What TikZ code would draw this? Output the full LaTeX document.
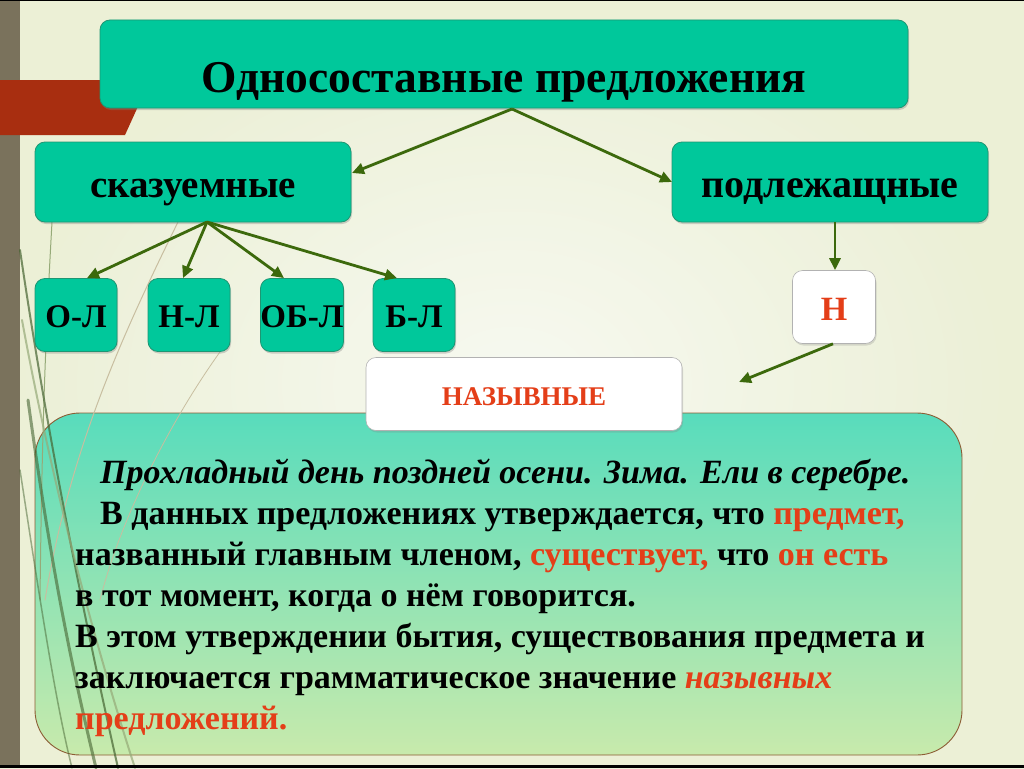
\documentclass[tikz,border=0pt]{standalone}
\usepackage{fontspec}
\setmainfont{Liberation Serif}
\usetikzlibrary{arrows.meta,shadows}
\definecolor{teal1}{RGB}{0,200,155}
\definecolor{tealedge}{RGB}{30,150,115}
\definecolor{arr}{RGB}{60,105,12}
\definecolor{redtxt}{RGB}{228,62,24}
\definecolor{graybar}{RGB}{122,114,92}
\definecolor{redband}{RGB}{168,46,16}
\definecolor{bgA}{RGB}{236,240,214}
\definecolor{bgB}{RGB}{248,250,244}
\definecolor{boxtop}{RGB}{88,220,188}
\definecolor{boxbot}{RGB}{200,234,172}
\definecolor{boxedge}{RGB}{140,92,52}
\definecolor{grassA}{RGB}{70,100,50}
\definecolor{grassB}{RGB}{150,170,120}
\definecolor{grassC}{RGB}{200,190,160}
\tikzset{
  tealbox/.style={draw=tealedge, line width=0.8pt, fill=teal1, rounded corners=10pt, inner sep=0pt,
    drop shadow={shadow xshift=1pt, shadow yshift=-2pt, opacity=0.35}},
  whitebox/.style={draw=gray!60, line width=0.6pt, fill=white, rounded corners=10pt, inner sep=0pt, text=redtxt,
    drop shadow={shadow xshift=1pt, shadow yshift=-2pt, opacity=0.25}},
  conn/.style={draw=arr, line width=2.8pt, -{Triangle[length=12pt,width=11pt]}},
  grass/.style={line cap=round}
}
\begin{document}
\begin{tikzpicture}[x=1pt,y=-1pt]
\useasboundingbox (0,0) rectangle (1024,768);
% background
\fill[bgA] (0,0) rectangle (1024,768);
\shade[inner color=bgB, outer color=bgA, opacity=0.9] (0,0) rectangle (1024,768);
% left bar and red band
\fill[graybar] (0,0) rectangle (20,768);
\fill[redband] (0,80) -- (150,80) -- (125,135) -- (0,135) -- cycle;
% big text box
\shade[top color=boxtop, bottom color=boxbot, rounded corners=45pt] (35,413) rectangle (962,755);
\draw[boxedge, line width=0.9pt, rounded corners=45pt] (35,413) rectangle (962,755);
% decorative grass lines
\draw[grass, grassB, line width=1pt] (52,222) .. controls (46,330) and (42,420) .. (40,600);
\draw[grass, grassC, line width=1pt] (178,222) .. controls (120,340) and (70,450) .. (45,600);
\draw[grass, grassC, line width=0.8pt] (225,345) .. controls (170,420) and (120,520) .. (100,600);
\draw[grass, grassA, line width=2pt, opacity=0.7] (20,250) .. controls (45,420) and (80,600) .. (118,768);
\draw[grass, grassA, line width=3pt, opacity=0.6] (28,400) .. controls (50,560) and (70,660) .. (96,768);
\draw[grass, grassB, line width=2pt, opacity=0.7] (22,320) .. controls (55,500) and (100,660) .. (135,768);
\draw[grass, grassA, line width=1.5pt, opacity=0.5] (20,470) .. controls (40,600) and (55,700) .. (72,768);
% boxes
\node[tealbox, minimum width=808pt, minimum height=88pt, text height=56pt, text depth=0pt,
  font=\bfseries\fontsize{45.5}{48}\selectfont] (top) at (504,64) {Односоставные предложения};
\node[tealbox, minimum width=316pt, minimum height=80pt, text height=30pt, text depth=0pt,
  font=\bfseries\fontsize{39}{42}\selectfont] (skaz) at (193,182) {сказуемные};
\node[tealbox, minimum width=316pt, minimum height=80pt, text height=30pt, text depth=0pt,
  font=\bfseries\fontsize{40}{42}\selectfont] (podl) at (830,182) {подлежащные};
\node[tealbox, minimum width=82pt, minimum height=73pt, text height=24pt, text depth=0pt,
  font=\bfseries\fontsize{33}{36}\selectfont] (ol) at (76,315) {О-Л};
\node[tealbox, minimum width=82pt, minimum height=73pt, text height=24pt, text depth=0pt,
  font=\bfseries\fontsize{33}{36}\selectfont] (nl) at (189,315) {Н-Л};
\node[tealbox, minimum width=82pt, minimum height=73pt, text height=24pt, text depth=0pt,
  font=\bfseries\fontsize{33}{36}\selectfont] (obl) at (302,315) {ОБ-Л};
\node[tealbox, minimum width=82pt, minimum height=73pt, text height=24pt, text depth=0pt,
  font=\bfseries\fontsize{33}{36}\selectfont] (bl) at (414,315) {Б-Л};
\node[whitebox, minimum width=83pt, minimum height=73pt, text height=26pt, text depth=0pt,
  font=\bfseries\fontsize{34}{36}\selectfont] (n) at (834,307) {Н};
\node[whitebox, minimum width=316pt, minimum height=73pt, text height=22pt, text depth=0pt,
  font=\bfseries\fontsize{27}{30}\selectfont] (naz) at (524,394) {НАЗЫВНЫЕ};
% connectors
\coordinate (tb) at (512,109);
\coordinate (sb) at (207,222);
\coordinate (nfree) at (739,382);
\draw[conn] (tb) -- (352,173);
\draw[conn] (tb) -- (672,182);
\draw[conn] (sb) -- (ol.north -| 87,0);
\draw[conn] (sb) -- (nl.north -| 183,0);
\draw[conn] (sb) -- (obl.north -| 284,0);
\draw[conn] (sb) -- (bl.north -| 397,0);
\draw[conn] (podl.south -| 835,0) -- (n.north -| 835,0);
\draw[conn] (n.south -| 833,0) -- (nfree);
% main text
\node[anchor=north west, inner sep=0pt, align=left, font=\bfseries\fontsize{34}{41}\selectfont] (txt) at (75,459)
{\hspace*{25pt}\textit{Прохладный день поздней осени. Зима. Ели в серебре.}\\
\hspace*{25pt}В данных предложениях утверждается, что \textcolor{redtxt}{предмет,}\\
названный главным членом, \textcolor{redtxt}{существует,} что \textcolor{redtxt}{он есть}\\
в тот момент, когда о нём говорится.\\
В этом утверждении бытия, существования предмета и\\
заключается грамматическое значение \textcolor{redtxt}{\textit{назывных}}\\
\textcolor{redtxt}{предложений.}};
% frame lines
\fill[black] (0,0) rectangle (1024,1.5);
\fill[black] (0,765) rectangle (1024,768);
\end{tikzpicture}
\end{document}
